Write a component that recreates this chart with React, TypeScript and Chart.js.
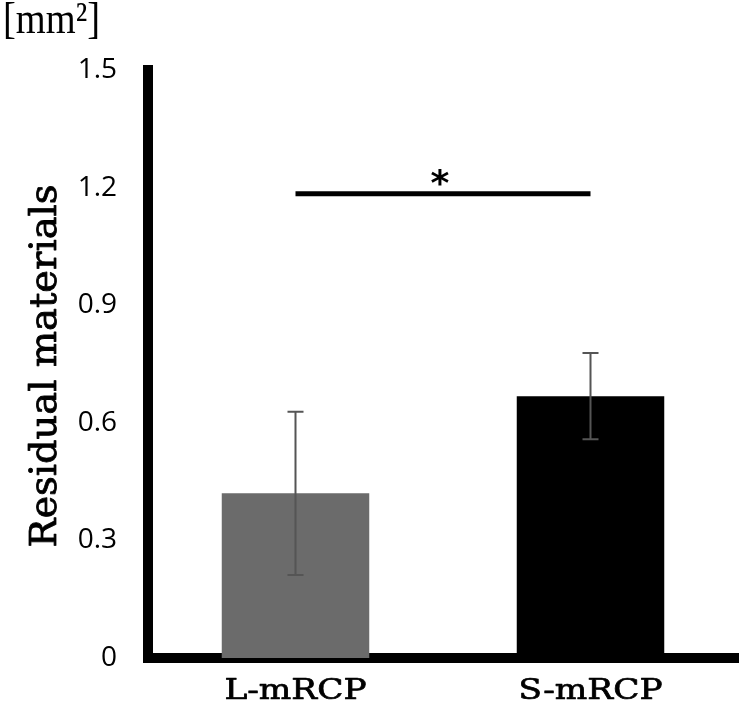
import React, { useEffect, useRef } from "react";
import { Chart, registerables } from "chart.js";

Chart.register(...registerables);

// ---- data ----
const categories = ["L-mRCP", "S-mRCP"];
const means = [0.42, 0.668];
const errors = [0.208, 0.11];
const barColors = ["#6b6b6b", "#000000"];
const yTickLabels = ["0", "0.3", "0.6", "0.9", "1.2", "1.5"];
const sigPair = [0, 1];
const sigLevel = 1.184;
const sigMark = "*";
const unitLabel = "[mm²]";
const yTitle = "Residual materials";

const SERIF = "'DejaVu Serif', serif";
const TIMES = "'Liberation Serif', serif";

function drawStretched(
  ctx: CanvasRenderingContext2D,
  text: string,
  x: number,
  y: number,
  font: string,
  sx: number,
  rot: number,
  align: CanvasTextAlign,
  weight: number
) {
  ctx.save();
  ctx.font = font;
  ctx.textAlign = align;
  ctx.textBaseline = "alphabetic";
  ctx.fillStyle = "#000";
  ctx.strokeStyle = "#000";
  ctx.translate(x, y);
  if (rot) ctx.rotate(rot);
  ctx.scale(sx, 1);
  ctx.fillText(text, 0, 0);
  if (weight > 0) {
    ctx.lineWidth = weight;
    ctx.lineJoin = "round";
    ctx.strokeText(text, 0, 0);
  }
  ctx.restore();
}

const overlayPlugin = {
  id: "overlay",
  afterDatasetsDraw(chart: any) {
    const { ctx, scales } = chart;
    const xs = scales.x;
    const ys = scales.y;
    ctx.save();
    ctx.strokeStyle = "#555555";
    ctx.lineWidth = 2;
    means.forEach((m, i) => {
      const cx = xs.getPixelForValue(i);
      const top = ys.getPixelForValue(m + errors[i]);
      const bot = ys.getPixelForValue(m - errors[i]);
      ctx.beginPath();
      ctx.moveTo(cx, top);
      ctx.lineTo(cx, bot);
      ctx.moveTo(cx - 8, top);
      ctx.lineTo(cx + 8, top);
      ctx.moveTo(cx - 8, bot);
      ctx.lineTo(cx + 8, bot);
      ctx.stroke();
    });
    ctx.restore();
  },
  afterDraw(chart: any) {
    const { ctx, scales, chartArea } = chart;
    const xs = scales.x;
    const ys = scales.y;

    // significance bar
    const x1 = xs.getPixelForValue(sigPair[0]);
    const x2 = xs.getPixelForValue(sigPair[1]);
    const sy = ys.getPixelForValue(sigLevel);
    ctx.save();
    ctx.strokeStyle = "#000";
    ctx.lineWidth = 5;
    ctx.lineCap = "butt";
    ctx.beginPath();
    ctx.moveTo(x1, sy);
    ctx.lineTo(x2, sy);
    ctx.stroke();

    ctx.font = "bold 36px 'DejaVu Sans', sans-serif";
    ctx.textAlign = "center";
    ctx.textBaseline = "alphabetic";
    ctx.fillStyle = "#000";
    const mm = ctx.measureText(sigMark);
    const asc = mm.actualBoundingBoxAscent;
    const desc = mm.actualBoundingBoxDescent;
    const centerY = sy - 16.5;
    ctx.fillText(sigMark, (x1 + x2) / 2 - 3, centerY + (asc - desc) / 2);
    ctx.restore();

    // x category labels
    const xFont = `28px ${SERIF}`;
    ctx.save();
    ctx.font = xFont;
    const sxX = 142 / ctx.measureText(categories[0]).width;
    ctx.restore();
    categories.forEach((c, i) => {
      drawStretched(ctx, c, xs.getPixelForValue(i), chartArea.bottom + 41, xFont, sxX, 0, "center", 0.7);
    });

    // y title
    const tFont = `37px ${SERIF}`;
    ctx.save();
    ctx.font = tFont;
    const sxT = 363 / ctx.measureText(yTitle).width;
    ctx.restore();
    drawStretched(
      ctx,
      yTitle,
      chartArea.left - 92,
      (chartArea.top + chartArea.bottom) / 2 + 2,
      tFont,
      sxT,
      -Math.PI / 2,
      "center",
      0.8
    );

    // unit label
    const uFont = `44px ${TIMES}`;
    ctx.save();
    ctx.font = uFont;
    const sxU = 97 / ctx.measureText(unitLabel).width;
    ctx.restore();
    drawStretched(ctx, unitLabel, 3, 33, uFont, sxU, 0, "left", 0);
  },
};

export default function App() {
  const canvasRef = useRef<HTMLCanvasElement | null>(null);

  useEffect(() => {
    const canvas = canvasRef.current;
    if (!canvas) return;
    const chart = new Chart(canvas, {
      type: "bar",
      data: {
        labels: categories,
        datasets: [
          {
            data: means,
            backgroundColor: barColors,
            borderWidth: 0,
            categoryPercentage: 1,
            barPercentage: 0.5,
          },
        ],
      },
      options: {
        animation: false,
        responsive: false,
        devicePixelRatio: 1,
        layout: { padding: { top: 70, right: 4, left: 0, bottom: 0 } },
        plugins: {
          legend: { display: false },
          tooltip: { enabled: false },
          title: { display: false },
        },
        scales: {
          x: {
            type: "category",
            z: 1,
            ticks: { display: false },
            grid: { display: false, drawTicks: false },
            border: { display: true, color: "#000", width: 10 },
            afterFit(scale: any) {
              scale.height = 51;
            },
          },
          y: {
            min: 0,
            max: 1.5,
            ticks: {
              stepSize: 0.3,
              padding: 31,
              color: "#000",
              font: { family: "'Open Sans', sans-serif", size: 28 },
              callback: (v: any) =>
                yTickLabels.find((l) => Math.abs(Number(l) - Number(v)) < 1e-6) ?? "",
            },
            grid: { display: false, drawTicks: false },
            border: { display: true, color: "#000", width: 10 },
            afterFit(scale: any) {
              scale.width = 148;
            },
          },
        },
      },
      plugins: [overlayPlugin],
    } as any);
    return () => chart.destroy();
  }, []);

  return (
    <div style={{ position: "fixed", left: 0, top: 0, width: 742, height: 709, background: "#fff" }}>
      <canvas ref={canvasRef} width={742} height={709} style={{ display: "block" }} />
    </div>
  );
}
